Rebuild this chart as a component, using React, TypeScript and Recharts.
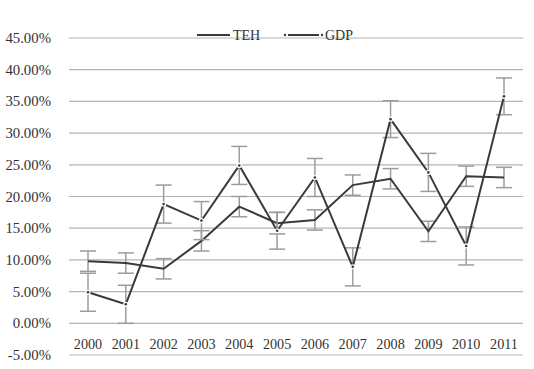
import React from 'react';
import { LineChart, Line, XAxis, YAxis, CartesianGrid, ErrorBar, Legend } from 'recharts';

const years = ['2000', '2001', '2002', '2003', '2004', '2005', '2006', '2007', '2008', '2009', '2010', '2011'];
const teh = [9.8, 9.5, 8.6, 13.0, 18.4, 15.8, 16.3, 21.8, 22.8, 14.5, 23.2, 23.0];
const tehErr = [1.6, 1.6, 1.6, 1.6, 1.6, 1.7, 1.6, 1.6, 1.6, 1.6, 1.6, 1.6];
const gdp = [4.9, 3.0, 18.8, 16.2, 24.9, 14.6, 23.0, 8.9, 32.2, 23.8, 12.2, 35.8];
const gdpErr = [3, 3, 3, 3, 3, 2.9, 3, 3, 2.9, 3, 3, 2.9];
const yTicks = [-5, 0, 5, 10, 15, 20, 25, 30, 35, 40, 45];

const data = years.map((y, i) => ({
  year: y,
  teh: teh[i],
  tehErr: tehErr[i],
  gdp: gdp[i],
  gdpErr: gdpErr[i],
}));

const font = 'Liberation Serif, DejaVu Serif, serif';
const lineColor = '#3a3a3a';
const errColor = '#9c9c9c';

const XTick = (props: any) => {
  const { x, y, payload } = props;
  return (
    <text x={x} y={y - 8} textAnchor="middle" fill="#333" style={{ fontFamily: font, fontSize: 14.2 }}>
      {payload.value}
    </text>
  );
};

const YTick = (props: any) => {
  const { x, y, payload } = props;
  return (
    <text x={x} y={y + 5} textAnchor="end" fill="#333" style={{ fontFamily: font, fontSize: 14.8 }}>
      {`${Number(payload.value).toFixed(2)}%`}
    </text>
  );
};

const GdpDot = (props: any) => {
  const { cx, cy, index } = props;
  return (
    <g key={`d${index}`}>
      <circle cx={cx} cy={cy} r={2.6} fill="#fff" />
      <circle cx={cx} cy={cy} r={1.3} fill={lineColor} />
    </g>
  );
};

// legend sits at left 190, top 25
const LegendBox = () => (
  <svg width={170} height={20}>
    <line x1={7} y1={10} x2={40} y2={10} stroke={lineColor} strokeWidth={2} />
    <text x={43} y={15} fill="#333" style={{ fontFamily: font, fontSize: 14 }}>TEH</text>
    <circle cx={95} cy={10} r={1.2} fill={lineColor} />
    <line x1={98} y1={10} x2={129} y2={10} stroke={lineColor} strokeWidth={2} />
    <circle cx={132} cy={10} r={1.2} fill={lineColor} />
    <text x={135} y={15} fill="#333" style={{ fontFamily: font, fontSize: 14 }}>GDP</text>
  </svg>
);

export default function App() {
  return (
    <div style={{ position: 'absolute', left: 0, top: 0, width: 534, height: 369, background: '#fff', fontFamily: font }}>
      <LineChart width={534} height={369} data={data} margin={{ top: 14, right: 11, bottom: 0, left: 0 }}>
        <CartesianGrid vertical={false} stroke="#b4b4b4" strokeWidth={1.2} />
        <XAxis
          dataKey="year"
          axisLine={false}
          tickLine={false}
          tickSize={0}
          height={14}
          padding={{ left: 19, right: 19 }}
          tick={<XTick />}
          interval={0}
        />
        <YAxis
          type="number"
          domain={[-5, 45]}
          ticks={yTicks}
          width={69}
          axisLine={false}
          tickLine={false}
          tickSize={0}
          tickMargin={18}
          tick={<YTick />}
          interval={0}
        />
        <Legend verticalAlign="top" content={<LegendBox />} wrapperStyle={{ top: 25, left: 190, width: 170 }} />
        <Line type="linear" dataKey="teh" stroke={lineColor} strokeWidth={2} dot={false} activeDot={false} isAnimationActive={false}>
          <ErrorBar dataKey="tehErr" width={8} stroke={errColor} strokeWidth={1.5} direction="y" />
        </Line>
        <Line type="linear" dataKey="gdp" stroke={lineColor} strokeWidth={2} dot={<GdpDot />} activeDot={false} isAnimationActive={false}>
          <ErrorBar dataKey="gdpErr" width={8} stroke={errColor} strokeWidth={1.5} direction="y" />
        </Line>
      </LineChart>
    </div>
  );
}
